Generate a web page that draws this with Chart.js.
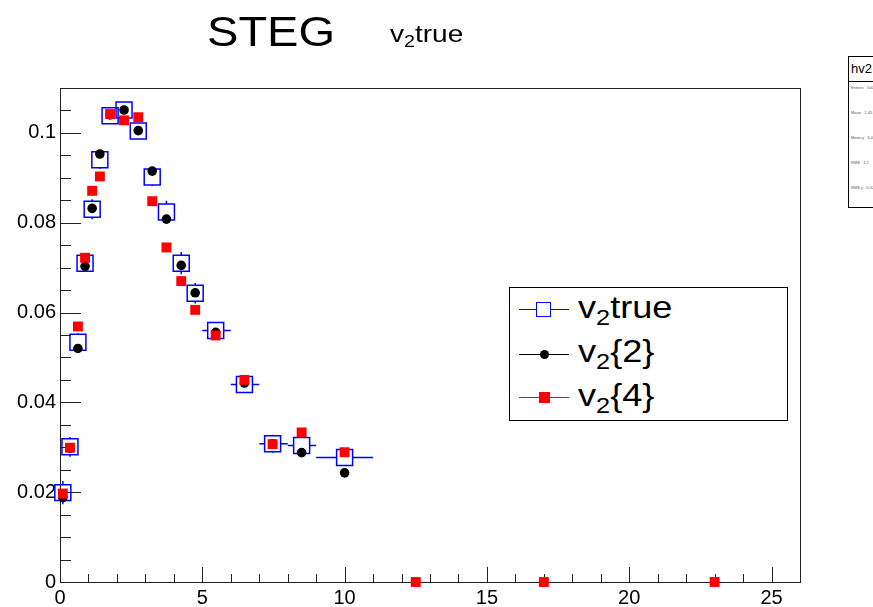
<!DOCTYPE html>
<html>
<head>
<meta charset="utf-8">
<script src="https://cdn.jsdelivr.net/npm/chart.js@4.4.0/dist/chart.umd.min.js"></script>
<style>
  html, body { margin: 0; padding: 0; background: #fff; overflow: hidden; }
  #wrap { position: relative; width: 873px; height: 607px; font-family: "Liberation Sans", Arial, sans-serif; color: #000; }
  #c { position: absolute; left: 0; top: 0; }
  .txt { position: absolute; white-space: nowrap; transform-origin: left top; }
  .txt sub { font-size: 0.7em; vertical-align: -0.3em; line-height: 0; }
  #legend { position: absolute; left: 509px; top: 287px; width: 277px; height: 132px; border: 1px solid #000; background: #fff; }
  .lline { position: absolute; left: 9px; width: 50px; height: 1px; }
  .lmark { position: absolute; box-sizing: border-box; }
  #stats { position: absolute; left: 848px; top: 56px; width: 60px; height: 150px; border: 1px solid #000; background: #fff; }
  #stats .hd { height: 24px; border-bottom: 1px solid #000; font-size: 13px; line-height: 24px; padding-left: 2px; }
  #stats .row { font-size: 4px; color: #555; height: 25px; line-height: 12px; padding-left: 2px; }
</style>
</head>
<body>
<div id="wrap">
  <canvas id="c" width="873" height="607"></canvas>
  <div class="txt" style="left:207px; top:11px; font-size:42px; line-height:42px; transform:scaleX(1.12);">STEG</div>
  <div class="txt" style="left:390px; top:22px; font-size:24px; line-height:24px; transform:scaleX(1.17);">v<sub>2</sub>true</div>

  <div id="legend">
    <div class="lline" style="top:21px; background:#0000ff;"></div>
    <div class="lmark" style="left:26px; top:14px; width:15px; height:15px; border:1.5px solid #0000ff; background:#fff;"></div>
    <div class="txt" style="left:68px; top:3px; font-size:32px; line-height:32px; transform:scaleX(1.13);">v<sub>2</sub>true</div>

    <div class="lline" style="top:66px; background:#000;"></div>
    <div class="lmark" style="left:30px; top:62px; width:9px; height:9px; border-radius:50%; background:#000;"></div>
    <div class="txt" style="left:68px; top:47px; font-size:32px; line-height:32px; transform:scaleX(1.13);">v<sub>2</sub>{2}</div>

    <div class="lline" style="top:109px; background:#ff0000;"></div>
    <div class="lmark" style="left:29px; top:104px; width:11px; height:11px; background:#ff0000;"></div>
    <div class="txt" style="left:68px; top:91px; font-size:32px; line-height:32px; transform:scaleX(1.13);">v<sub>2</sub>{4}</div>
  </div>

  <div id="stats">
    <div class="hd">hv2</div>
    <div class="row">Entries &nbsp; 1000</div>
    <div class="row">Mean &nbsp; 1.45</div>
    <div class="row">Mean y &nbsp; 0.073</div>
    <div class="row">RMS &nbsp; 1.2</div>
    <div class="row">RMS y &nbsp; 0.021</div>
  </div>
</div>

<script>
// bins en pT (bords) et centres des points
const binLow  = [0, 0.2, 0.5, 0.75, 1, 1.25, 1.5, 2, 2.5, 3, 3.5, 4, 4.5, 5, 6, 7, 8, 9];
const binHigh = [0.2, 0.5, 0.75, 1, 1.25, 1.5, 2, 2.5, 3, 3.5, 4, 4.5, 5, 6, 7, 8, 9, 11];
const ptCenters = [0.1, 0.35, 0.63, 0.88, 1.13, 1.40, 1.76, 2.25, 2.75, 3.24, 3.74, 4.26, 4.75, 5.47, 6.48, 7.47, 8.49, 10.0];

// valeurs
const v2true = [0.0199, 0.0301, 0.0534, 0.0710, 0.0830, 0.0940, 0.1038, 0.1051, 0.1004, 0.0902, 0.0824, 0.0710, 0.0643, 0.0560, 0.0440, 0.0308, 0.0304, 0.0277];
const v2trueErr = [0.0026, 0.0022, 0.0020, 0.0018, 0.0022, 0.0020, 0.0018, 0.0018, 0.0018, 0.0020, 0.0025, 0.0025, 0.0023, 0.0015, 0.0015, 0.0020, 0.0015, 0.0015];
const v2two = [0.0188, 0.0298, 0.0520, 0.0703, 0.0832, 0.0953, 0.1040, 0.1051, 0.1005, 0.0915, 0.0808, 0.0705, 0.0644, 0.0556, 0.0443, 0.0308, 0.0288, 0.0243];
const v2fourX = [0.1, 0.35, 0.63, 0.88, 1.13, 1.40, 1.76, 2.25, 2.75, 3.24, 3.74, 4.26, 4.75, 5.47, 6.48, 7.47, 8.49, 10.0, 12.5, 17, 23];
const v2four = [0.0197, 0.0299, 0.0569, 0.0722, 0.0871, 0.0903, 0.1042, 0.1028, 0.1035, 0.0848, 0.0745, 0.0670, 0.0606, 0.0549, 0.0450, 0.0307, 0.0333, 0.0289, 0, 0, 0];

// ticks des axes
const xTickLabels = [0, 5, 10, 15, 20, 25];
const yTickLabels = [0, 0.02, 0.04, 0.06, 0.08, 0.1];
const xMax = 26;
const yMax = 0.11;

const toPoints = (xs, ys) => xs.map((x, i) => ({ x, y: ys[i] }));

// cadre + graduations internes style ROOT, barres d'erreur de v2true
const rootFrame = {
    id: 'rootFrame',
    beforeDatasetsDraw(chart) {
        const { ctx, chartArea: a, scales: { x, y } } = chart;
        ctx.save();
        ctx.strokeStyle = '#222';
        ctx.lineWidth = 1;
        ctx.beginPath();
        // graduations x (majeures 5, mineures 1)
        for (let v = 0; v <= xMax; v += 1) {
            const px = Math.round(x.getPixelForValue(v)) + 0.5;
            const len = v % 5 === 0 ? 15 : 8;
            ctx.moveTo(px, a.bottom);
            ctx.lineTo(px, a.bottom - len);
        }
        // graduations y (majeures 0.02, mineures 0.005)
        for (let k = 0; k <= 22; k++) {
            const py = Math.round(y.getPixelForValue(k * 0.005)) + 0.5;
            const len = k % 4 === 0 ? 21 : 11;
            ctx.moveTo(a.left, py);
            ctx.lineTo(a.left + len, py);
        }
        ctx.stroke();
        ctx.strokeRect(Math.round(a.left) + 0.5, Math.round(a.top) + 0.5, Math.round(a.right - a.left), Math.round(a.bottom - a.top));

        // barres d'erreur (hors du marqueur)
        const half = 8;
        ctx.strokeStyle = '#0000ff';
        ctx.lineWidth = 1.5;
        ctx.beginPath();
        ptCenters.forEach((c, i) => {
            const px = x.getPixelForValue(c);
            const py = y.getPixelForValue(v2true[i]);
            const xl = x.getPixelForValue(binLow[i]);
            const xh = x.getPixelForValue(binHigh[i]);
            const yt = y.getPixelForValue(v2true[i] + v2trueErr[i]);
            const yb = y.getPixelForValue(v2true[i] - v2trueErr[i]);
            if (px - xl > half) { ctx.moveTo(xl, py); ctx.lineTo(px - half, py); }
            if (xh - px > half) { ctx.moveTo(px + half, py); ctx.lineTo(xh, py); }
            if (py - yt > half) { ctx.moveTo(px, yt); ctx.lineTo(px, py - half); }
            if (yb - py > half) { ctx.moveTo(px, py + half); ctx.lineTo(px, yb); }
        });
        ctx.stroke();
        ctx.restore();
    }
};

const tickFont = { family: '"Liberation Sans", Arial, sans-serif', size: 20 };

new Chart(document.getElementById('c'), {
    type: 'scatter',
    data: {
        datasets: [
            {
                label: 'v2{4}',
                data: toPoints(v2fourX, v2four),
                pointStyle: 'rect',
                pointRadius: 7,
                backgroundColor: '#ff0000',
                borderColor: '#ff0000',
                borderWidth: 0,
                order: 1,
                clip: false
            },
            {
                label: 'v2{2}',
                data: toPoints(ptCenters, v2two),
                pointStyle: 'circle',
                pointRadius: 4.8,
                backgroundColor: '#000',
                borderColor: '#000',
                borderWidth: 0,
                order: 2,
                clip: false
            },
            {
                label: 'v2true',
                data: toPoints(ptCenters, v2true),
                pointStyle: 'rect',
                pointRadius: 11.3,
                backgroundColor: 'rgba(0,0,0,0)',
                borderColor: '#0000ff',
                borderWidth: 1.5,
                order: 3,
                clip: false
            }
        ]
    },
    options: {
        responsive: false,
        animation: false,
        events: [],
        layout: { padding: { top: 88, right: 73, left: 0, bottom: 0 } },
        plugins: { legend: { display: false }, tooltip: { enabled: false }, title: { display: false } },
        scales: {
            x: {
                type: 'linear',
                min: 0,
                max: xMax,
                grid: { display: false, drawTicks: false },
                border: { display: false },
                afterBuildTicks: s => { s.ticks = xTickLabels.map(v => ({ value: v })); },
                afterFit: s => { s.height = 25; },
                ticks: { color: '#000', font: tickFont, padding: 4, maxRotation: 0, autoSkip: false }
            },
            y: {
                type: 'linear',
                min: 0,
                max: yMax,
                grid: { display: false, drawTicks: false },
                border: { display: false },
                afterBuildTicks: s => { s.ticks = yTickLabels.map(v => ({ value: v })); },
                afterFit: s => { s.width = 60; },
                ticks: {
                    color: '#000', font: tickFont, padding: 4, autoSkip: false,
                    callback: v => (v === 0 ? '0' : v === 0.1 ? '0.1' : v.toFixed(2))
                }
            }
        }
    },
    plugins: [rootFrame]
});
</script>
</body>
</html>
